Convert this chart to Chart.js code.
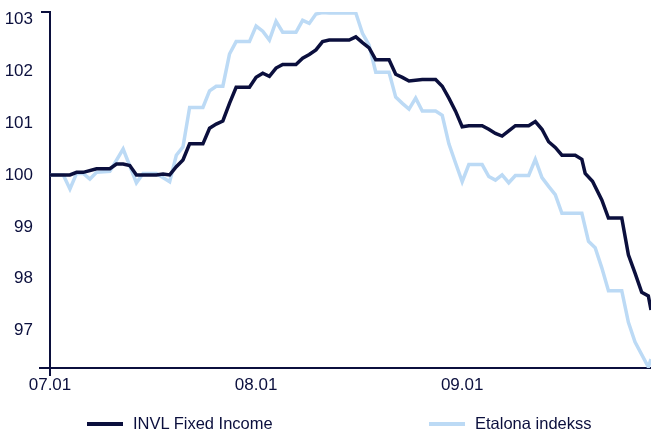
<!DOCTYPE html>
<html>
<head>
<meta charset="utf-8">
<script src="https://cdn.jsdelivr.net/npm/chart.js@4.4.0/dist/chart.umd.min.js"></script>
<style>
  html, body { margin: 0; padding: 0; background: #fff; }
  #wrap { position: relative; width: 651px; height: 433px; }
  .legend-item { position: absolute; top: 414px; display: flex; align-items: center;
    font: 16.5px "Liberation Sans", Arial, sans-serif; color: #0b0f3d; white-space: nowrap; }
  .legend-item .swatch { display: inline-block; width: 36px; height: 4px; margin-right: 10px; }
</style>
</head>
<body>
<div id="wrap">
  <canvas id="fondsChart" width="651" height="433"></canvas>
  <div class="legend-item" id="leg0" style="left:87px"><span class="swatch"></span><span class="txt"></span></div>
  <div class="legend-item" id="leg1" style="left:429px"><span class="swatch"></span><span class="txt"></span></div>
</div>
<script>
// dienas kopš 07.01
const monthTicks = [0, 31, 62];
const monthLabels = ['07.01', '08.01', '09.01'];
const yTicks = [97, 98, 99, 100, 101, 102, 103];
const seriesNames = ['INVL Fixed Income', 'Etalona indekss'];

const invlDays = [0, 3, 4, 5, 7, 9, 10, 11, 12, 13, 16, 17, 18, 19, 20, 21, 23, 24, 25, 26, 27, 28, 30,
  31, 32, 33, 34, 35, 37, 38, 39, 40, 41, 42, 45, 46, 47, 48, 49, 51, 52, 53, 54, 56, 58, 59, 60, 61,
  62, 63, 65, 66, 67, 68, 69, 70, 72, 73, 74, 75, 76, 77, 79, 80, 80.5, 81.6, 83, 84, 86, 87, 88, 89, 90, 90.4];
const invlValues = [100.0, 100.0, 100.05, 100.05, 100.12, 100.12, 100.21, 100.21, 100.18, 100.0, 100.0, 100.02, 100.0,
  100.16, 100.29, 100.6, 100.6, 100.9, 100.98, 101.04, 101.38, 101.69, 101.69,
  101.88, 101.96, 101.9, 102.06, 102.13, 102.13, 102.25, 102.32, 102.41, 102.57, 102.6, 102.6, 102.66, 102.55,
  102.45, 102.22, 102.22, 101.94, 101.88, 101.81, 101.84, 101.84, 101.71, 101.48, 101.23,
  100.93, 100.95, 100.95, 100.88, 100.8, 100.75, 100.85, 100.95, 100.95, 101.03, 100.88, 100.64, 100.53, 100.38,
  100.38, 100.3, 100.03, 99.88, 99.52, 99.17, 99.17, 98.46, 98.11, 97.74, 97.67, 97.4];

const etalonDays = [0, 2, 3, 4, 5, 6, 7, 9, 11, 13, 14, 16, 18, 19, 20, 21, 23, 24, 25, 26, 27, 28, 30,
  31, 32, 33, 34, 35, 37, 38, 39, 40, 41, 42, 46, 47, 48, 49, 51, 52, 53, 54, 55, 56, 58, 59, 60, 61,
  62, 63, 65, 66, 67, 68, 69, 70, 72, 73, 74, 75, 76, 77, 80, 81, 82, 83, 84, 86, 87, 88, 90, 90.4];
const etalonValues = [100.0, 100.0, 99.73, 100.03, 100.03, 99.92, 100.05, 100.07, 100.5, 99.85, 100.03, 100.03,
  99.87, 100.38, 100.54, 101.3, 101.3, 101.62, 101.71, 101.71, 102.33, 102.57, 102.57,
  102.87, 102.77, 102.6, 102.96, 102.75, 102.75, 102.98, 102.92, 103.1, 103.13, 103.12, 103.12, 102.73, 102.5,
  101.98, 101.98, 101.5, 101.38, 101.27, 101.48, 101.23, 101.23, 101.15, 100.6, 100.23,
  99.87, 100.2, 100.2, 99.97, 99.9, 100.0, 99.85, 99.99, 99.99, 100.3, 99.95, 99.78, 99.62, 99.26,
  99.26, 98.72, 98.6, 98.21, 97.77, 97.77, 97.16, 96.78, 96.3, 96.45];

const navy = '#0b0f3d';
const lightBlue = '#bcdaf5';
const fontFamily = '"Liberation Sans", Arial, sans-serif';

const toPoints = (xs, ys) => xs.map((x, i) => ({ x: x, y: ys[i] }));

// asu līnijas ar mazajām atzīmēm galos
const axisLines = {
    id: 'axisLines',
    beforeDatasetsDraw(chart) {
        const { ctx, chartArea: a } = chart;
        ctx.save();
        ctx.strokeStyle = navy;
        ctx.lineWidth = 2;
        ctx.beginPath();
        ctx.moveTo(a.left - 9, a.top);
        ctx.lineTo(a.left, a.top);
        ctx.lineTo(a.left, a.bottom + 8);
        ctx.moveTo(a.left - 11, a.bottom);
        ctx.lineTo(a.right, a.bottom);
        ctx.stroke();
        ctx.restore();
    }
};

document.addEventListener('DOMContentLoaded', () => {
    const colors = [navy, lightBlue];
    ['leg0', 'leg1'].forEach((id, i) => {
        const el = document.getElementById(id);
        el.querySelector('.swatch').style.background = colors[i];
        el.querySelector('.txt').textContent = seriesNames[i];
    });

    const data = {
        datasets: [{
            label: seriesNames[0],
            data: toPoints(invlDays, invlValues),
            borderColor: navy,
            borderWidth: 3.5,
            pointRadius: 0,
            tension: 0
        }, {
            label: seriesNames[1],
            data: toPoints(etalonDays, etalonValues),
            borderColor: lightBlue,
            borderWidth: 3.5,
            pointRadius: 0,
            tension: 0
        }]
    };

    const config = {
        type: 'line',
        data: data,
        plugins: [axisLines],
        options: {
            responsive: false,
            animation: false,
            layout: { padding: { top: 12, left: 0, right: 0, bottom: 0 } },
            plugins: {
                legend: { display: false },
                tooltip: { enabled: false }
            },
            scales: {
                x: {
                    type: 'linear',
                    min: 0,
                    max: 90.4,
                    border: { display: false },
                    grid: { display: false, drawTicks: false },
                    afterBuildTicks: (scale) => { scale.ticks = monthTicks.map(v => ({ value: v })); },
                    afterFit: (scale) => { scale.height = 65; scale.paddingLeft = 0; scale.paddingRight = 0; },
                    ticks: {
                        autoSkip: false,
                        maxRotation: 0,
                        padding: 7,
                        color: navy,
                        font: { family: fontFamily, size: 17 },
                        callback: (value) => monthLabels[monthTicks.indexOf(value)] || ''
                    }
                },
                y: {
                    min: 96.28,
                    max: 103.14,
                    border: { display: false },
                    grid: { display: false, drawTicks: false },
                    afterBuildTicks: (scale) => { scale.ticks = yTicks.map(v => ({ value: v })); },
                    afterFit: (scale) => { scale.width = 50; scale.paddingTop = 0; scale.paddingBottom = 0; },
                    ticks: {
                        padding: 17,
                        color: navy,
                        font: { family: fontFamily, size: 17 }
                    }
                }
            }
        }
    };

    const ctx = document.getElementById('fondsChart').getContext('2d');
    new Chart(ctx, config);
});
</script>
</body>
</html>
